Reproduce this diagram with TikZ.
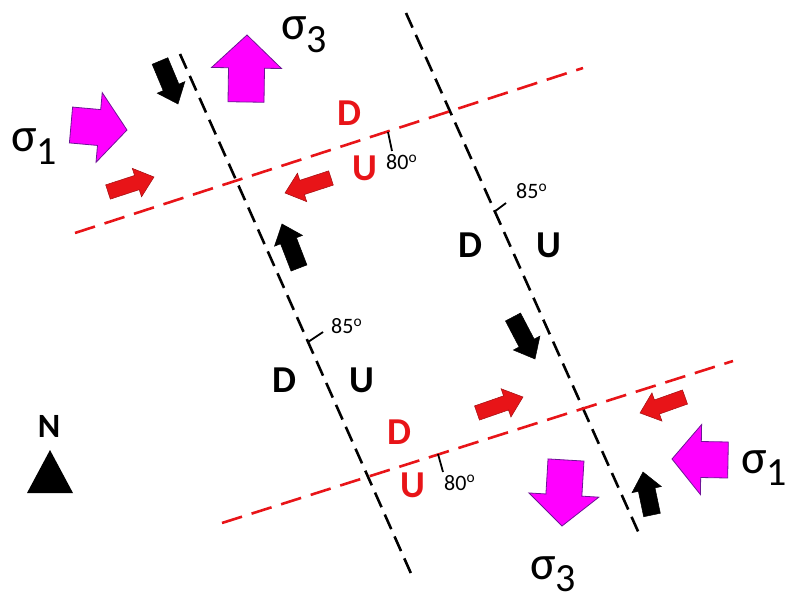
\documentclass[tikz,border=0pt]{standalone}
\usepackage{fontspec}
\setmainfont{Carlito}
\usetikzlibrary{calc}
\definecolor{fred}{RGB}{232,20,24}
\definecolor{mag}{RGB}{255,0,255}
\definecolor{magline}{RGB}{110,20,150}
\newcommand\blockarrow[7]{%
  \coordinate (#1t) at (#3);
  \coordinate (#1p) at (#4);
  \filldraw[#2] ($(#1t)!#5!90:(#1p)$)
    -- ($(#1p)!#7!(#1t)!#5!90:(#1p)$)
    -- ($(#1p)!#7!(#1t)!#6!90:(#1p)$)
    -- (#1p)
    -- ($(#1p)!#7!(#1t)!#6!-90:(#1p)$)
    -- ($(#1p)!#7!(#1t)!#5!-90:(#1p)$)
    -- ($(#1t)!#5!-90:(#1p)$) -- cycle;}
\newcommand\sigmalabel[2]{{\fontsize{48}{48}\selectfont σ}\raisebox{#1}{\fontsize{40}{40}\selectfont #2}}
\tikzset{
  blackfault/.style={black, line width=2.6pt, dash pattern=on 16pt off 8pt},
  redfault/.style={fred, line width=2.6pt, dash pattern=on 21pt off 10pt},
  tick/.style={black, line width=1.8pt},
  redarrow/.style={fill=fred, draw=fred!70!black, line width=0.5pt},
  blackarrow/.style={fill=black, draw=black, line width=0.5pt},
  magarrow/.style={fill=mag, draw=magline, line width=0.8pt},
  letter/.style={inner sep=0pt, font=\fontsize{38}{38}\selectfont\bfseries},
  deg/.style={inner sep=0pt, anchor=base west, font=\fontsize{22}{22}\selectfont},
  sig/.style={inner sep=0pt, anchor=base west},
}
\begin{document}
\begin{tikzpicture}[x=1pt, y=-1pt]
\useasboundingbox (0,0) rectangle (792,601);
% faults
\coordinate (b1a) at (180,54); \coordinate (b1b) at (413,578);
\coordinate (b2a) at (406,13); \coordinate (b2b) at (641,538);
\coordinate (r1a) at (75,233); \coordinate (r1b) at (583,68);
\coordinate (r2a) at (222,523); \coordinate (r2b) at (733,361);
\draw[blackfault] (b1a) -- (b1b);
\draw[blackfault] (b2a) -- (b2b);
\draw[redfault] (r1a) -- (r1b);
\draw[redfault] (r2a) -- (r2b);
% dip ticks
\coordinate (t1a) at (388,132); \coordinate (t1b) at (392,151);
\coordinate (t2a) at (438,454); \coordinate (t2b) at (443,472);
\coordinate (t3a) at (308,342); \coordinate (t3b) at (323,332);
\coordinate (t4a) at (494,212); \coordinate (t4b) at (506,203);
\draw[tick] (t1a) -- (t1b);
\draw[tick] (t2a) -- (t2b);
\draw[tick] (t3a) -- (t3b);
\draw[tick] (t4a) -- (t4b);
% dip labels
\node[deg] (d80a) at (386,170) {80\textsuperscript{o}};
\node[deg] (d80b) at (444,490) {80\textsuperscript{o}};
\node[deg] (d85a) at (331,334) {85\textsuperscript{o}};
\node[deg] (d85b) at (516,199) {85\textsuperscript{o}};
% D / U
\node[letter, fred] (rD1) at (349,113) {D};
\node[letter, fred] (rU1) at (365,168) {U};
\node[letter, fred] (rD2) at (399,432) {D};
\node[letter, fred] (rU2) at (413,485) {U};
\node[letter] (kD1) at (284,380) {D};
\node[letter] (kU1) at (362,380) {U};
\node[letter] (kD2) at (470,245) {D};
\node[letter] (kU2) at (549,245) {U};
% red arrows
\blockarrow{ra}{redarrow}{108,192}{154,177}{7.5pt}{15pt}{18pt}
\blockarrow{rb}{redarrow}{331,178}{285,193}{7.5pt}{15pt}{18pt}
\blockarrow{rc}{redarrow}{477,413}{523,397}{7.5pt}{15pt}{18pt}
\blockarrow{rd}{redarrow}{685,397}{640,413}{7.5pt}{15pt}{18pt}
% black arrows
\blockarrow{ka}{blackarrow}{160,61}{178,104}{8.5pt}{15pt}{18pt}
\blockarrow{kb}{blackarrow}{299,268}{282,224}{8.5pt}{15pt}{18pt}
\blockarrow{kc}{blackarrow}{513,317}{535,359}{8.5pt}{15pt}{18pt}
\blockarrow{kd}{blackarrow}{652,515}{643,472}{8.5pt}{15pt}{18pt}
% magenta stress arrows
\blockarrow{ma}{magarrow}{71,125}{127,130}{18pt}{35pt}{28pt}
\blockarrow{mb}{magarrow}{246,102}{247,35}{18pt}{35pt}{33pt}
\blockarrow{mc}{magarrow}{566,460}{562,526}{18pt}{35pt}{31pt}
\blockarrow{md}{magarrow}{728,460}{672,459}{18pt}{35pt}{29pt}
% sigma labels
\node[sig] (s1l) at (11,152) {\sigmalabel{-13pt}{1}};
\node[sig] (s3t) at (281,40) {\sigmalabel{-13pt}{3}};
\node[sig] (s3b) at (530,579) {\sigmalabel{-12pt}{3}};
\node[sig] (s1r) at (741,473) {\sigmalabel{-12pt}{1}};
% north arrow
\node[inner sep=0pt, font=\fontsize{34}{34}\selectfont\bfseries] (north) at (49,426) {N};
\coordinate (na) at (50,450); \coordinate (nb) at (27,493); \coordinate (nc) at (73,493);
\fill[black] (na) -- (nb) -- (nc) -- cycle;
\end{tikzpicture}
\end{document}
